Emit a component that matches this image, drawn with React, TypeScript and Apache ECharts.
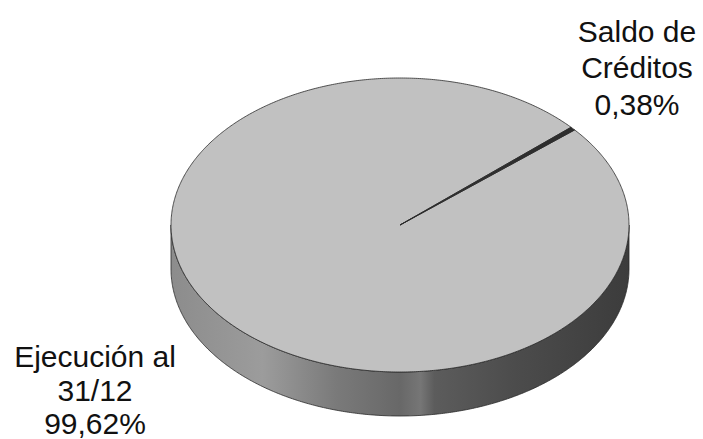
import React, { useEffect, useRef } from "react";
import * as echarts from "echarts";

const categories = ["Ejecución al\n31/12", "Saldo de\nCréditos"];
const values = [99.62, 0.38];
const sliceColors = ["#c1c1c1", "#2e2e2e"];

export default function App() {
  const ref = useRef<HTMLDivElement>(null);
  useEffect(() => {
    if (!ref.current) return;
    const chart = echarts.init(ref.current, null, { renderer: "svg" });
    const cx = 400, cy = 225, rx = 229, ry = 147, depth = 44;
    const startAngle = 40.3; // math degrees, slices go clockwise
    const total = values.reduce((a, b) => a + b, 0);
    // ranges in math degrees [lo, hi] (ccw)
    const ranges: [number, number][] = [];
    let acc = 0;
    values.forEach((v) => {
      const a0 = startAngle - (acc / total) * 360;
      acc += v;
      const a1 = startAngle - (acc / total) * 360;
      ranges.push([a1, a0]);
    });
    const pt = (deg: number, dy = 0) => {
      const r = (deg * Math.PI) / 180;
      return [cx + rx * Math.cos(r), cy - ry * Math.sin(r) + dy];
    };
    const arcPts = (lo: number, hi: number, dy = 0) => {
      const pts: number[][] = [];
      const n = Math.max(2, Math.ceil((hi - lo) / 0.5));
      for (let i = 0; i <= n; i++) pts.push(pt(lo + ((hi - lo) * i) / n, dy));
      return pts;
    };
    const sideGrad = new echarts.graphic.LinearGradient(
      cx - rx, 0, cx + rx, 0,
      [
        { offset: 0, color: "#8c8c8c" },
        { offset: 0.2, color: "#9c9c9c" },
        { offset: 0.36, color: "#7a7a7a" },
        { offset: 0.5, color: "#686868" },
        { offset: 0.545, color: "#767676" },
        { offset: 0.575, color: "#5c5c5c" },
        { offset: 0.75, color: "#4c4c4c" },
        { offset: 1, color: "#3c3c3c" },
      ],
      true
    );
    const fmt = (v: number) => v.toFixed(2).replace(".", ",") + "%";
    const option: any = {
      animation: false,
      backgroundColor: "#ffffff",
      series: [
        {
          type: "custom",
          coordinateSystem: "none",
          silent: true,
          data: values,
          renderItem: (params: any) => {
            const [lo, hi] = ranges[params.dataIndex];
            // intersect with front half (180..360) in normalized terms
            const children: any[] = [];
            for (const off of [-360, 0, 360]) {
              const a = Math.max(lo, 180 + off);
              const b = Math.min(hi, 360 + off);
              if (b > a) {
                const top = arcPts(a, b, 0);
                const bot = arcPts(a, b, depth).reverse();
                children.push({
                  type: "polygon",
                  shape: { points: top.concat(bot) },
                  style: { fill: sideGrad, stroke: "#2a2a2a", lineWidth: 0.8 },
                });
              }
            }
            return { type: "group", children };
          },
        },
        {
          type: "custom",
          coordinateSystem: "none",
          silent: true,
          data: values,
          renderItem: (params: any) => {
            const [lo, hi] = ranges[params.dataIndex];
            const pts = [[cx, cy]].concat(arcPts(lo, hi, 0));
            return {
              type: "polygon",
              shape: { points: pts },
              style: {
                fill: sliceColors[params.dataIndex],
                stroke: "#2a2a2a",
                lineWidth: 0.8,
              },
            };
          },
        },
      ],
      graphic: [
        {
          type: "text",
          x: 95,
          y: 340,
          style: {
            text: categories[0] + "\n" + fmt(values[0]),
            fontFamily: "Liberation Sans, Arial, sans-serif",
            fontSize: 30,
            lineHeight: 33.5,
            align: "center",
            verticalAlign: "top",
            fill: "#111111",
          },
        },
        {
          type: "text",
          x: 637,
          y: 13,
          style: {
            text: categories[1] + "\n" + fmt(values[1]),
            fontFamily: "Liberation Sans, Arial, sans-serif",
            fontSize: 30,
            lineHeight: 36.5,
            align: "center",
            verticalAlign: "top",
            fill: "#111111",
          },
        },
      ],
    };
    chart.setOption(option);
    return () => chart.dispose();
  }, []);
  return (
    <div
      ref={ref}
      style={{ position: "fixed", left: 0, top: 0, width: 703, height: 439, background: "#fff" }}
    />
  );
}
